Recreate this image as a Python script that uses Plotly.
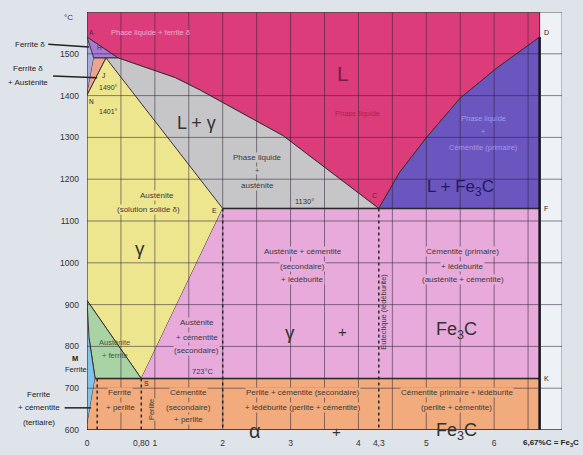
import plotly.graph_objects as go
import numpy as np

# ---------------- data (carbon %, temperature °C) ----------------
T_MIN, T_MAX = 600, 1600
C_MAX = 7.0
C_FE3C = 6.67

A = (0.0, 1540)
H = (0.10, 1490)
J = (0.28, 1490)
B = (0.46, 1490)
N = (0.0, 1401)
E = (2.0, 1130)
C = (4.3, 1130)
F = (6.67, 1130)
D = (6.67, 1540)
G = (0.0, 910)
GP_mid = (0.03, 820)
P = (0.12, 723)
S = (0.80, 723)
K = (6.67, 723)
Q = (0.0, 610)

liq_BC_c = [0.46, 1.30, 1.67, 2.89, 4.3]
liq_BC_t = [1490, 1443, 1413, 1304, 1130]
liq_CD_c = [4.3, 4.61, 5.01, 5.50, 6.04, 6.67]
liq_CD_t = [1130, 1217, 1301, 1394, 1466, 1540]

x_tick_vals = [0, 0.8, 1, 2, 3, 4, 4.3, 5, 6]
x_tick_text = ["0", "0,80", "1", "2", "3", "4", "4,3", "5", "6"]
y_tick_vals = [600, 700, 800, 900, 1000, 1100, 1200, 1300, 1400, 1500]

# ---------------- styles ----------------
FONT = "Liberation Sans Narrow, Liberation Sans, Arial, sans-serif"
COL = dict(
    L="#dc3d7a", Ld="#a77bd3", d="#aaaae2", dg="#e9a590", Lg="#c6c6c8",
    g="#eee58f", LFe="#6b55bf", gFe="#e7aadb", ag="#a9d3a5", a="#80c4ea",
    low="#f1ab7d",
)
TXT = "#3a3a3a"

def pts(*p):
    return [q[0] for q in p], [q[1] for q in p]

regions = []
lx = [0.0, C_FE3C] + liq_CD_c[::-1] + liq_BC_c[::-1][1:] + [A[0]]
lt = [T_MAX, T_MAX] + liq_CD_t[::-1] + liq_BC_t[::-1][1:] + [A[1]]
regions.append((COL["L"], lx, lt))
regions.append((COL["Ld"],) + tuple(pts(A, B, H)))
regions.append((COL["d"],) + tuple(pts(A, H, N)))
regions.append((COL["dg"],) + tuple(pts(H, J, N)))
regions.append((COL["Lg"], [J[0]] + liq_BC_c + [E[0]], [J[1]] + liq_BC_t + [E[1]]))
regions.append((COL["g"],) + tuple(pts(N, J, E, S, G)))
regions.append((COL["LFe"], liq_CD_c + [F[0]], liq_CD_t + [F[1]]))
regions.append((COL["gFe"],) + tuple(pts(E, F, K, S)))
regions.append((COL["ag"],) + tuple(pts(G, S, P, GP_mid)))
regions.append((COL["a"],) + tuple(pts(G, GP_mid, P, Q)))
regions.append((COL["low"],) + tuple(pts(P, K, (C_FE3C, T_MIN), (0.0, T_MIN), Q)))

fig = go.Figure()
for col, xs, ts in regions:
    fig.add_trace(go.Scatter(x=xs, y=ts, fill="toself", fillcolor=col, mode="lines",
                             line=dict(color="#3a3038", width=1), hoverinfo="skip",
                             showlegend=False))

fig.add_trace(go.Scatter(x=[E[0], F[0]], y=[E[1], F[1]], mode="lines",
                         line=dict(color="#2a2a2a", width=1.5), hoverinfo="skip", showlegend=False))
fig.add_trace(go.Scatter(x=[P[0], K[0]], y=[P[1], K[1]], mode="lines",
                         line=dict(color="#2a2a2a", width=1.5), hoverinfo="skip", showlegend=False))
for xv, top in [(0.15, S[1]), (S[0], S[1]), (E[0], E[1]), (C[0], C[1])]:
    fig.add_trace(go.Scatter(x=[xv, xv], y=[top, T_MIN], mode="lines",
                             line=dict(color="#2a2a2a", width=1.5, dash="dot"),
                             hoverinfo="skip", showlegend=False))
fig.add_trace(go.Scatter(x=[C_FE3C, C_FE3C], y=[D[1], T_MIN], mode="lines",
                         line=dict(color="#15151f", width=2.5), hoverinfo="skip", showlegend=False))

shapes = []
gridc = "rgba(45,35,55,0.55)"
for xv in np.arange(0.5, C_MAX + 0.01, 0.5):
    shapes.append(dict(type="line", xref="x", yref="y", x0=xv, x1=xv, y0=T_MIN, y1=T_MAX,
                       line=dict(color=gridc, width=1), layer="above"))
for tv in range(700, T_MAX, 100):
    shapes.append(dict(type="line", xref="x", yref="y", x0=0, x1=C_MAX, y0=tv, y1=tv,
                       line=dict(color=gridc, width=1), layer="above"))
shapes.append(dict(type="line", xref="x", yref="y", x0=0, x1=C_MAX, y0=T_MAX, y1=T_MAX,
                   line=dict(color="#555", width=1.2), layer="above"))
shapes.append(dict(type="line", xref="x", yref="y", x0=0, x1=C_MAX, y0=T_MIN, y1=T_MIN,
                   line=dict(color="#333", width=1.5), layer="above"))
shapes.append(dict(type="line", xref="x", yref="y", x0=0, x1=0, y0=T_MIN, y1=T_MAX,
                   line=dict(color="#333", width=1.2), layer="above"))

def to_paper(c, t):
    return c / C_MAX, (t - T_MIN) / (T_MAX - T_MIN)

for (c0, t0), (c1, t1) in [((-0.57, 1523), (0.03, 1516)),
                           ((-0.50, 1447), (0.15, 1443)),
                           ((-0.33, 653), (0.06, 653))]:
    x0, y0 = to_paper(c0, t0)
    x1, y1 = to_paper(c1, t1)
    shapes.append(dict(type="line", xref="paper", yref="paper", x0=x0, y0=y0, x1=x1, y1=y1,
                       line=dict(color="#222", width=1.5)))

ann = []
def lab(x, y, text, size=8, color=TXT, bg=None, angle=0, xanchor="center"):
    inside = (0 <= x <= C_MAX) and (T_MIN <= y <= T_MAX)
    if inside:
        d = dict(x=x, y=y, xref="x", yref="y")
    else:
        px_, py_ = to_paper(x, y)
        d = dict(x=px_, y=py_, xref="paper", yref="paper")
    d.update(text=text, showarrow=False,
             font=dict(family=FONT, size=size, color=color), textangle=angle,
             xanchor=xanchor, yanchor="middle", borderpad=0)
    if bg:
        d["bgcolor"] = bg
    ann.append(d)

# upper left
lab(0.93, 1550, "Phase liquide + ferrite δ", 7.5, "#f4aacb")
lab(0.07, 1550, "A", 6.5, "#333")
lab(0.18, 1516, "H", 6.5, "#333")
lab(0.25, 1447, "J", 6.5, "#222")
lab(0.32, 1420, "1490°", 7, "#333")
lab(0.07, 1385, "N", 6.5, "#222")
lab(0.31, 1363, "1401°", 7, "#333")
# liquid
lab(3.77, 1454, "L", 21, "#7a1a48")
lab(3.99, 1358, "Phase liquide", 7.5, "#a8225a")
# L + gamma
lab(1.62, 1334, "L + γ", 18, "#333")
lab(2.51, 1251, "Phase liquide", 8, TXT, COL["Lg"])
lab(2.51, 1220, "+", 7, TXT, COL["Lg"])
lab(2.51, 1184, "austénite", 8, TXT, COL["Lg"])
lab(3.21, 1147, "1130°", 7.5, "#333", COL["Lg"])
lab(4.24, 1162, "C", 7, "#333")
lab(1.88, 1126, "E", 7, "#333")
# austenite
lab(1.03, 1162, "Austénite", 8, TXT, COL["g"])
lab(0.90, 1127, "(solution solide δ)", 8, TXT, COL["g"])
lab(0.78, 1035, "γ", 19, "#333")
# L + Fe3C
lab(5.84, 1346, "Phase liquide", 7.5, "#a597ea")
lab(5.84, 1313, "+", 7, "#a597ea")
lab(5.84, 1277, "Cémentite (primaire)", 7.5, "#a597ea")
lab(5.50, 1179, "L + Fe<sub>3</sub>C", 17, "#1f1a5e")
# right letters
lab(6.72, 1550, "D", 7, "#222", xanchor="left")
lab(6.72, 1131, "F", 7, "#222", xanchor="left")
lab(6.72, 724, "K", 7, "#222", xanchor="left")
# pink zone
lab(3.18, 1026, "Austénite + cémentite", 8, TXT, COL["gFe"])
lab(3.18, 992, "(secondaire)", 8, TXT, COL["gFe"])
lab(3.18, 961, "+ lédéburite", 8, TXT, COL["gFe"])
lab(2.99, 834, "γ", 19, "#333")
lab(3.77, 836, "+", 15, "#333")
lab(5.45, 839, "Fe<sub>3</sub>C", 18, "#333")
lab(5.54, 1026, "Cémentite (primaire)", 8, TXT, COL["gFe"])
lab(5.54, 992, "+ lédéburite", 8, TXT, COL["gFe"])
lab(5.54, 961, "(austénite + cémentite)", 8, TXT, COL["gFe"])
lab(4.37, 882, "Eutectique (lédéburite)", 7.5, TXT, angle=-90)
lab(1.62, 858, "Austénite", 8, TXT, COL["gFe"])
lab(1.62, 822, "+ cémentite", 8, TXT, COL["gFe"])
lab(1.62, 791, "(secondaire)", 8, TXT, COL["gFe"])
lab(1.71, 741, "723°C", 7.5, TXT, COL["gFe"])
# green
lab(0.41, 810, "Austénite", 7.5, "#3d5a3d")
lab(0.41, 779, "+ ferrite", 7.5, "#3d5a3d")
# lower zone
lab(0.88, 712, "S", 7, "#222")
lab(0.49, 689, "Ferrite", 8, TXT, COL["low"])
lab(0.49, 655, "+ perlite", 8, TXT, COL["low"])
lab(0.96, 648, "Perlite", 7.5, TXT, COL["low"], angle=-90)
lab(1.49, 689, "Cémentite", 8, TXT, COL["low"])
lab(1.49, 655, "(secondaire)", 8, TXT, COL["low"])
lab(1.49, 624, "+ perlite", 8, TXT, COL["low"])
lab(3.18, 689, "Perlite + cémentite (secondaire)", 8, TXT, COL["low"])
lab(3.18, 655, "+ lédéburite (perlite + cémentite)", 8, TXT, COL["low"])
lab(5.45, 689, "Cémentite primaire + lédéburite", 8, TXT, COL["low"])
lab(5.45, 655, "(perlite + cémentite)", 8, TXT, COL["low"])
lab(2.48, 597, "α", 20, "#333")
lab(3.68, 597, "+", 15, "#333")
lab(5.45, 597, "Fe<sub>3</sub>C", 18, "#333")
# outside left
lab(-0.28, 1586, "°C", 8, "#333")
lab(-0.84, 1523, "Ferrite δ", 8, "#222")
lab(-0.87, 1466, "Ferrite δ", 8, "#222")
lab(-0.87, 1432, "+ Austénite", 8, "#222")
lab(-0.71, 684, "Ferrite", 8, "#222")
lab(-0.71, 653, "+ cémentite", 8, "#222")
lab(-0.71, 619, "(tertiaire)", 8, "#222")
lab(-0.18, 772, "<b>M</b>", 7.5, "#222")
lab(-0.16, 744, "Ferrite", 7.5, "#222")
lab(6.41, 570, "<b>6,67%C = Fe<sub>3</sub>C</b>", 8, "#222", xanchor="left")

fig.update_layout(
    width=583, height=455,
    margin=dict(l=87, r=21, t=12, b=25, autoexpand=False),
    paper_bgcolor="#dfe4eb", plot_bgcolor="#eef1f5",
    showlegend=False,
    shapes=shapes, annotations=ann,
    xaxis=dict(range=[0, C_MAX], tickvals=x_tick_vals, ticktext=x_tick_text,
               tickangle=0, automargin=False,
               showgrid=False, zeroline=False, showline=False, ticks="",
               ticklabelstandoff=6,
               tickfont=dict(family=FONT, size=8.5, color="#333"), fixedrange=True),
    yaxis=dict(range=[T_MIN, T_MAX], tickvals=y_tick_vals, automargin=False,
               showgrid=False, zeroline=False, showline=False, ticks="",
               ticklabelstandoff=7,
               tickfont=dict(family=FONT, size=8.5, color="#333"), fixedrange=True),
)

fig.write_html("out.html")
